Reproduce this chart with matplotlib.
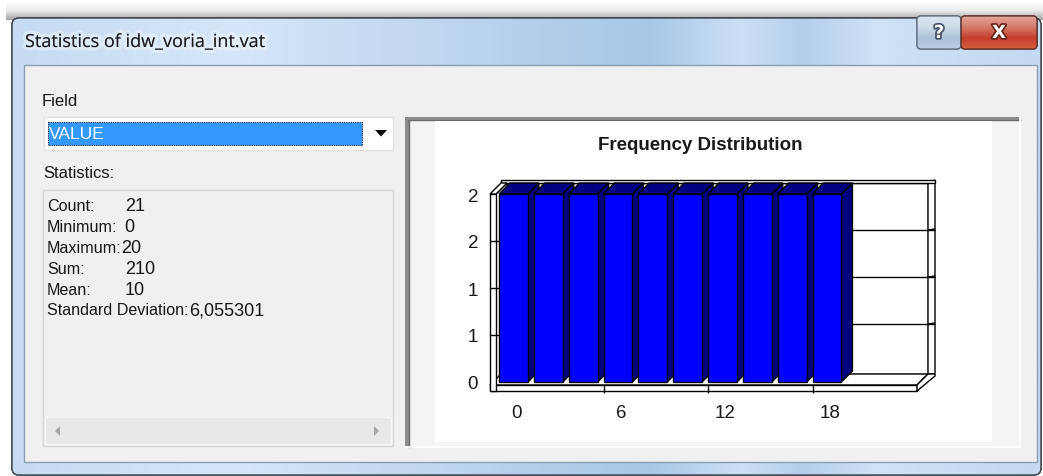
import matplotlib
matplotlib.use('Agg')
import matplotlib.pyplot as plt
import matplotlib.patheffects as pe
from matplotlib.patches import Rectangle, Polygon, FancyBboxPatch
from matplotlib.colors import LinearSegmentedColormap
import numpy as np

# ---------------- data ----------------
bin_starts = [0, 2, 4, 6, 8, 10, 12, 14, 16, 18]
frequencies = [2, 2, 2, 2, 2, 2, 2, 2, 2, 2]
bin_width = 2
x_tick_values = [0, 6, 12, 18]
x_tick_labels = ['0', '6', '12', '18']
y_tick_values = [0, 0.5, 1.0, 1.5, 2.0]
y_tick_labels = ['0', '1', '1', '2', '2']
x_limits = (0, 24)
y_limits = (0, 2)

window_title = 'Statistics of idw_voria_int.vat'
field_label = 'Field'
field_value = 'VALUE'
stats_heading = 'Statistics:'
stat_names = ['Count:', 'Minimum:', 'Maximum:', 'Sum:', 'Mean:', 'Standard Deviation:']
stat_values = ['21', '0', '20', '210', '10', '6,055301']
chart_title = 'Frequency Distribution'

# ---------------- figure ----------------
plt.rcParams['font.family'] = ['Liberation Sans', 'DejaVu Sans']
W, H, DPI = 1043, 477, 100
fig = plt.figure(figsize=(W / DPI, H / DPI), dpi=DPI)
fig.patch.set_facecolor('white')
bg = fig.add_axes([0, 0, 1, 1])
bg.axis('off')

TXT = '#161616'


def rect(x0, y0, x1, y1, **kw):
    r = Rectangle((x0, y0), x1 - x0, y1 - y0, **kw)
    bg.add_patch(r)
    return r


def grad_fill(patch, colors, extent, horizontal=False, z=1):
    cm = LinearSegmentedColormap.from_list('g', colors)
    if horizontal:
        arr = np.linspace(0, 1, 512).reshape(1, -1)
    else:
        arr = np.linspace(0, 1, 128).reshape(-1, 1)
    im = bg.imshow(arr, cmap=cm, extent=extent, aspect='auto', zorder=z,
                   interpolation='bilinear')
    im.set_clip_path(patch)
    return im


# shadow above the window
sh_cm = LinearSegmentedColormap.from_list('sh', ['#ffffff', '#ececec', '#a4a4a4'])
bg.imshow(np.linspace(0, 1, 40).reshape(-1, 1), cmap=sh_cm,
          extent=(6, W, 21, 2), aspect='auto', zorder=0)

# window frame
frame = FancyBboxPatch((12, 19), 1041 - 12, 476 - 19,
                       boxstyle='round,pad=0,rounding_size=7',
                       fc='#c4dbf3', ec='#3b4048', lw=1.0, zorder=1)
bg.add_patch(frame)
tb_colors = [(0.0, '#c6dcf3'), (0.22, '#d5e6f8'), (0.42, '#bed6ef'),
             (0.62, '#a8c7e7'), (0.71, '#cbe0f5'), (0.77, '#b4cfeb'),
             (0.84, '#cfe2f6'), (1.0, '#c3daf2')]
grad_fill(frame, tb_colors, (12, 1041, 476, 19), horizontal=True, z=1.2)
bg.add_patch(FancyBboxPatch((12, 19), 1041 - 12, 476 - 19,
                            boxstyle='round,pad=0,rounding_size=7',
                            fc='none', ec='#3b4048', lw=1.0, zorder=1.5))

# inner panel
rect(24, 66, 1037, 463, fc='#f0f0f0', ec='#8d9db1', lw=1, zorder=3)

# title
bg.text(25, 43, window_title, fontsize=13, family=['Open Sans', 'DejaVu Sans'],
        va='center', ha='left', color='#1b1b1b', zorder=4,
        path_effects=[pe.withStroke(linewidth=5, foreground=(1, 1, 1, 0.35))])

# help / close buttons
hb = FancyBboxPatch((917, 17), 44, 33, boxstyle='round,pad=0,rounding_size=4',
                    fc='#bfd2e6', ec='#5d6b7c', lw=0.9, zorder=4)
bg.add_patch(hb)
grad_fill(hb, ['#dbe6f1', '#cddbe9', '#adc3da', '#b9cde2'], (917, 961, 50, 17), z=4.1)
bg.add_patch(FancyBboxPatch((917, 17), 44, 33, boxstyle='round,pad=0,rounding_size=4',
                            fc='none', ec='#5d6b7c', lw=0.9, zorder=4.2))
cb = FancyBboxPatch((961, 17), 76, 33, boxstyle='round,pad=0,rounding_size=4',
                    fc='#c8473a', ec='#5a2a24', lw=0.9, zorder=4)
bg.add_patch(cb)
grad_fill(cb, ['#e5a89c', '#d47a6a', '#c63e2c', '#d4603f'], (961, 1037, 50, 17), z=4.1)
bg.add_patch(FancyBboxPatch((961, 17), 76, 33, boxstyle='round,pad=0,rounding_size=4',
                            fc='none', ec='#5a2a24', lw=0.9, zorder=4.2))
bg.text(939, 34, '?', fontsize=13, weight='bold', color='white', ha='center',
        va='center', zorder=5, family='DejaVu Sans',
        path_effects=[pe.withStroke(linewidth=2.5, foreground='#46546a')])
bg.text(999, 34, 'X', fontsize=13, weight='bold', color='white', ha='center',
        va='center', zorder=5, family='DejaVu Sans',
        path_effects=[pe.withStroke(linewidth=2.5, foreground='#6a2418')])

# Field label & combo box
bg.text(42, 102, field_label, fontsize=12, va='center', color=TXT, zorder=5)
rect(44, 118, 393, 151, fc='white', ec='#e2e2e2', lw=1, zorder=4)
rect(48, 123, 362, 146, fc='#3399ff', ec='#222222', lw=0.8, ls=(0, (1, 1)), zorder=5)
bg.text(49, 134.5, field_value, color='white', fontsize=12.5, va='center', zorder=6)
bg.add_patch(Polygon([(375, 131), (387, 131), (381, 137.5)], closed=True,
                     fc='black', ec='none', zorder=6))

# Statistics box
bg.text(43, 174, stats_heading, fontsize=12, va='center', color=TXT, zorder=5)
rect(43, 191, 393, 447, fc='#f0f0f0', ec='#d6d6d6', lw=1, zorder=4)
rect(45, 418, 391, 445, fc='#e8e8e8', ec='#f6f6f6', lw=1, zorder=4.5)
bg.add_patch(Polygon([(60, 427), (60, 437), (55, 432)], closed=True,
                     fc='#a6a6a6', ec='none', zorder=5))
bg.add_patch(Polygon([(374, 427), (374, 437), (379, 432)], closed=True,
                     fc='#a6a6a6', ec='none', zorder=5))
stat_value_x = [125, 124, 121, 125, 125, 189]
for i, (nm, val) in enumerate(zip(stat_names, stat_values)):
    yy = 207 + i * 20.8
    bg.text(47, yy, nm, fontsize=11.6, va='center', color=TXT, zorder=5)
    bg.text(stat_value_x[i], yy, val, fontsize=13, va='center', color=TXT, zorder=5)

# chart panel
rect(405, 118, 1020, 448, fc='#f4f4f4', ec='none', zorder=4)
rect(405, 118, 410, 448, fc='#8e8e8e', ec='none', zorder=4.2)
rect(405, 118, 1020, 122, fc='#8e8e8e', ec='none', zorder=4.2)
bg.plot([408.5, 408.5], [121, 448], color='#6a6a6a', lw=1, zorder=4.3)
bg.plot([408, 1020], [120.5, 120.5], color='#6a6a6a', lw=1, zorder=4.3)
bg.plot([1020, 1020], [118, 448], color='white', lw=1.2, zorder=4.3)
bg.plot([405, 1020], [448, 448], color='white', lw=1.2, zorder=4.3)
rect(435, 122, 992, 443, fc='white', ec='none', zorder=4.4)
bg.text(700, 146, chart_title, weight='bold', fontsize=13.5, ha='center',
        va='center', color='#1a1a1a', zorder=5)

bg.set_xlim(0, W)
bg.set_ylim(H, 0)

# ---------------- 3D bar chart ----------------
AX_L, AX_R, AX_T, AX_B = 499, 917, 195, 383
ax = fig.add_axes([AX_L / W, (H - AX_B) / H, (AX_R - AX_L) / W, (AX_B - AX_T) / H])
ax.set_zorder(10)
ax.set_xlim(*x_limits)
ax.set_ylim(*y_limits)
ax.set_facecolor('none')
ax.set_frame_on(False)
xmin, xmax = x_limits
ymin, ymax = y_limits
sx = (xmax - xmin) / (AX_R - AX_L)
sy = (ymax - ymin) / (AX_B - AX_T)
D = 11  # depth offset in pixels


def P(x, y, ox=0, oy=0):
    return (x + ox * sx, y + oy * sy)


def poly(pts, fc, z, ec='black', lw=1):
    p = Polygon(pts, closed=True, fc=fc, ec=ec, lw=lw, zorder=z, clip_on=False,
                joinstyle='miter')
    ax.add_patch(p)
    return p


def line(p0, p1, z, color='black', lw=1):
    ax.plot([p0[0], p1[0]], [p0[1], p1[1]], color=color, lw=lw, zorder=z,
            clip_on=False, solid_capstyle='butt')


# back wall
poly([P(xmin, ymin, D - 3, D - 3), P(xmax, ymin, D, D - 3),
      P(xmax, ymax, D, D), P(xmin, ymax, D - 3, D)], 'white', 1)
for yv in y_tick_values[1:-1]:
    line(P(xmin, yv, D - 3, D), P(xmax, yv, D + 7, D), 1.5)
# back wall top rim
poly([P(xmin, ymax, -9 + D, D), P(xmax, ymax, D + 7, D),
      P(xmax, ymax, D + 7, D + 3), P(xmin, ymax, -9 + D, D + 3)], 'white', 1.6)
# right wall
poly([P(xmax, ymin, D, D - 3), P(xmax, ymin, D + 7, D - 3),
      P(xmax, ymax, D + 7, D + 3), P(xmax, ymax, D, D)], 'white', 1.4)
for yv in y_tick_values[1:-1]:
    line(P(xmax, yv, D, D), P(xmax, yv, D + 7, D + 1), 1.5)

# floor
poly([P(xmin, ymin, -9, -3), P(xmax, ymin, 0, -3),
      P(xmax, ymin, D, D - 3), P(xmin, ymin, -9 + D, D - 3)], 'white', 2)
poly([P(xmin, ymin, -9, -9), P(xmax, ymin, 0, -9),
      P(xmax, ymin, 0, -3), P(xmin, ymin, -9, -3)], 'white', 2.1)
poly([P(xmax, ymin, 0, -3), P(xmax, ymin, 0, -9), P(xmax, ymin, 18, 6),
      P(xmax, ymin, 18, 8), P(xmax, ymin, D, D - 3)], 'white', 2.1)
for xv in x_tick_values[1:]:
    line(P(xv, ymin, 0, -3), P(xv, ymin, 0, -11), 2.2)

# left wall
poly([P(xmin, ymin, -3, -3), P(xmin, ymin, -3 + D, D - 3),
      P(xmin, ymax, -3 + D, D), P(xmin, ymax, -3, 0)], 'white', 1.8)
poly([P(xmin, ymin, -9, -9), P(xmin, ymin, -3, -9),
      P(xmin, ymax, -3, 0), P(xmin, ymax, -9, 0)], 'white', 2.5)
poly([P(xmin, ymax, -9, 0), P(xmin, ymax, -3, 0),
      P(xmin, ymax, -3 + D, D), P(xmin, ymax, -9 + D, D)], 'white', 2.5)
for yv in y_tick_values[1:-1]:
    line(P(xmin, yv, -9, 0), P(xmin, yv, 0, 0), 2.6)

# bars
bar_w = 0.83 * bin_width
bars = ax.bar(bin_starts, frequencies, width=bar_w, align='edge',
              color='#0000ff', edgecolor='black', linewidth=1)
for i, (b, x0, f) in enumerate(zip(bars, bin_starts, frequencies)):
    z = 3 + i * 0.01
    x1 = x0 + bar_w
    poly([P(x1, 0), P(x1, 0, D, D), P(x1, f, D, D), P(x1, f)], '#000080', z)
    poly([P(x0, f), P(x1, f), P(x1, f, D, D), P(x0, f, D, D)], '#000080', z)
    b.set_zorder(z + 0.005)
    b.set_clip_on(False)

ax.set_xticks([v + bin_width / 2 for v in x_tick_values], x_tick_labels)
ax.set_yticks(y_tick_values, y_tick_labels)
ax.tick_params(length=0, labelsize=13.5, labelcolor='#1a1a1a')
ax.tick_params(axis='y', pad=15)
ax.tick_params(axis='x', pad=16)

fig.savefig('out.png', dpi=DPI)
